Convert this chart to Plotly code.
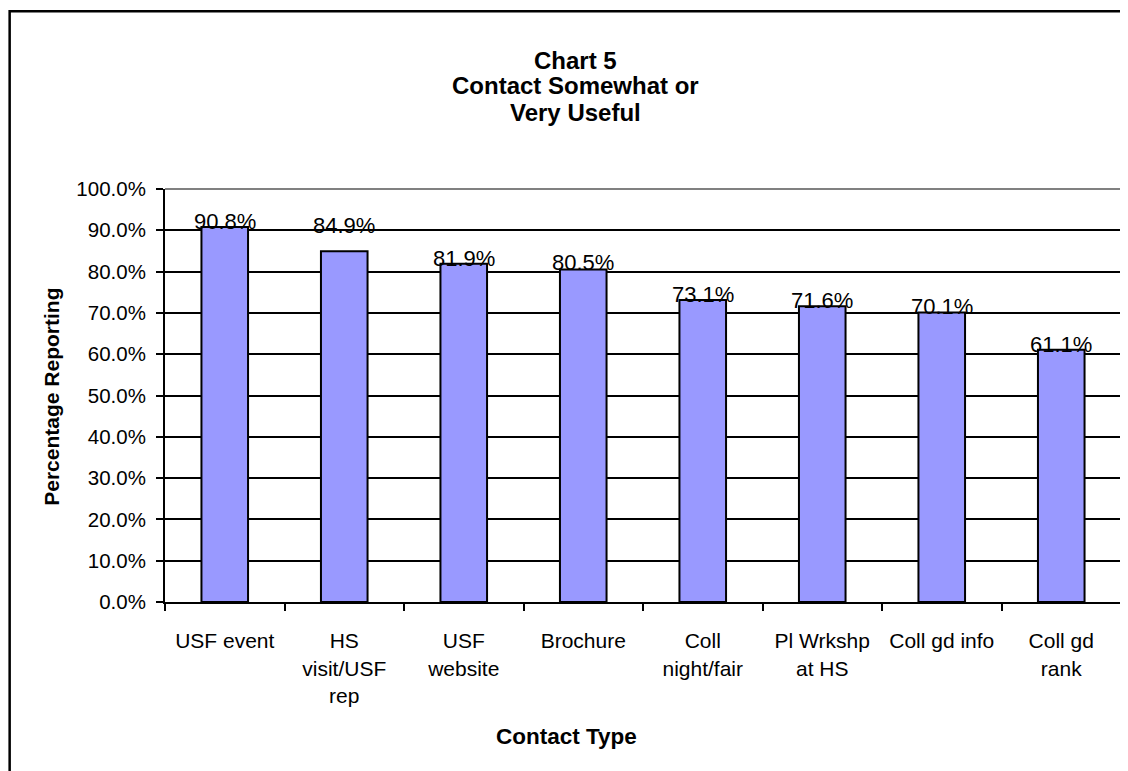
import plotly.graph_objects as go

# ---- data ----
categories = ["USF event", "HS<br>visit/USF<br>rep", "USF<br>website", "Brochure",
              "Coll<br>night/fair", "Pl Wrkshp<br>at HS", "Coll gd info", "Coll gd<br>rank"]
values = [0.908, 0.849, 0.819, 0.805, 0.731, 0.716, 0.701, 0.611]
y_ticks = [0.0, 0.1, 0.2, 0.3, 0.4, 0.5, 0.6, 0.7, 0.8, 0.9, 1.0]
title_lines = ["Chart 5", "Contact Somewhat or", "Very Useful"]
x_title = "Contact Type"
y_title = "Percentage Reporting"

# style-only settings
label_nudge = [0, 20, 0, 2, 0, 0, 0, 0]          # pixel nudges of value labels
title_line_y = [1.3123, 1.2494, 1.1864]          # paper y of each title line

FONT = "Arial, Liberation Sans, sans-serif"

fig = go.Figure()
fig.add_trace(go.Bar(
    x=categories, y=values, width=0.39,
    marker=dict(color="#9999FF", line=dict(color="black", width=2)),
    hoverinfo="skip",
))

annotations = []
for c, v, n in zip(categories, values, label_nudge):
    annotations.append(dict(
        x=c, y=v, xref="x", yref="y", text=f"{v:.1%}", showarrow=False,
        yanchor="bottom", yshift=-9 + n, font=dict(family=FONT, size=22, color="black"),
    ))

for line, yy in zip(title_lines, title_line_y):
    annotations.append(dict(
        x=0.4289, y=yy, xref="paper", yref="paper", text=f"<b>{line}</b>",
        showarrow=False, yanchor="middle", xanchor="center",
        font=dict(family=FONT, size=24, color="black"),
    ))

annotations.append(dict(
    x=0.4205, y=-0.3257, xref="paper", yref="paper", text=f"<b>{x_title}</b>",
    showarrow=False, yanchor="middle", xanchor="center",
    font=dict(family=FONT, size=22.5, color="black"),
))
annotations.append(dict(
    x=-0.1182, y=0.497, xref="paper", yref="paper", text=f"<b>{y_title}</b>",
    showarrow=False, yanchor="middle", xanchor="center", textangle=-90,
    font=dict(family=FONT, size=21, color="black"),
))

shapes = [
    # outer chart border
    dict(type="rect", xref="paper", yref="paper", x0=-0.1625, y0=-0.45, x1=1.05, y1=1.4303,
         line=dict(color="black", width=2.5), fillcolor="rgba(0,0,0,0)", layer="above"),
    # plot-area border (top and right), gray
    dict(type="line", xref="paper", yref="paper", x0=0, x1=1, y0=1, y1=1,
         line=dict(color="#808080", width=2), layer="above"),
    dict(type="line", xref="paper", yref="paper", x0=1, x1=1, y0=0, y1=1,
         line=dict(color="#808080", width=2), layer="above"),
]

fig.update_layout(
    width=1120, height=763, autosize=False,
    margin=dict(l=157, r=7, t=181, b=169, pad=0),
    paper_bgcolor="white", plot_bgcolor="white",
    showlegend=False,
    font=dict(family=FONT, color="black"),
    annotations=annotations, shapes=shapes,
)
fig.update_xaxes(
    type="category", tickson="boundaries", ticks="outside", ticklen=7, tickwidth=2,
    tickcolor="black", showline=True, linecolor="black", linewidth=2,
    showgrid=False, tickfont=dict(family=FONT, size=21, color="black"),
    ticklabelstandoff=19, range=[-0.5, len(categories) - 0.5], zeroline=False,
)
fig.update_yaxes(
    range=[0, 1], tickvals=y_ticks, tickformat=".1%", ticks="outside", ticklen=7,
    tickwidth=2, tickcolor="black", showline=True, linecolor="black", linewidth=2,
    showgrid=True, gridcolor="black", gridwidth=2, zeroline=False,
    tickfont=dict(family=FONT, size=20.5, color="black"), ticklabelstandoff=6,
)

fig.write_html("out.html")
